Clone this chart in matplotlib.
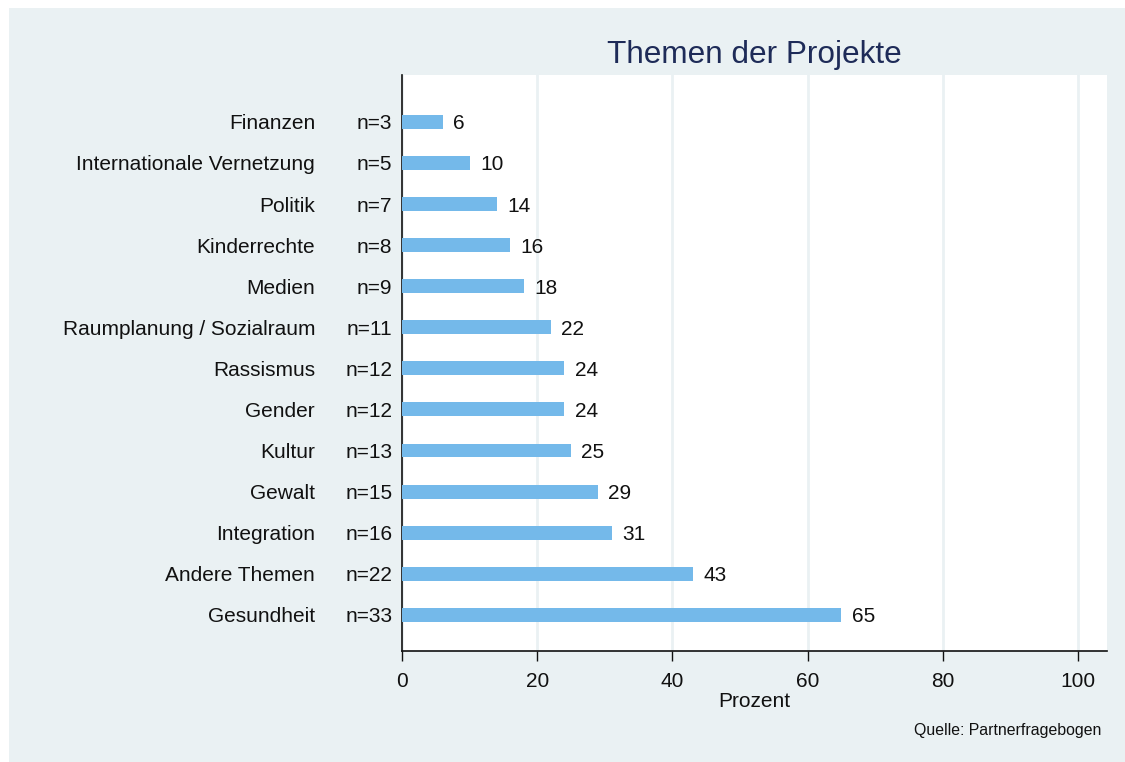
import matplotlib
matplotlib.use("Agg")
import matplotlib.pyplot as plt
from matplotlib.patches import Rectangle

categories = ["Finanzen", "Internationale Vernetzung", "Politik", "Kinderrechte", "Medien",
              "Raumplanung / Sozialraum", "Rassismus", "Gender", "Kultur", "Gewalt",
              "Integration", "Andere Themen", "Gesundheit"]
n_counts = [3, 5, 7, 8, 9, 11, 12, 12, 13, 15, 16, 22, 33]
percent = [6, 10, 14, 16, 18, 22, 24, 24, 25, 29, 31, 43, 65]
xticks = [0, 20, 40, 60, 80, 100]

plt.rcParams['font.family'] = ['Liberation Sans', 'DejaVu Sans']

W, H = 1125, 762
FS = 15
fig = plt.figure(figsize=(W/100, H/100), dpi=100, facecolor='white')
bg = '#EAF1F3'
fig.patches.append(Rectangle((9/W, 0), 1 - 9/W, 1 - 8/H, transform=fig.transFigure,
                             facecolor=bg, edgecolor='none', zorder=-10))

x0, x1 = 402, 1107
y0, y1 = 75, 651
ax = fig.add_axes([x0/W, 1 - y1/H, (x1-x0)/W, (y1-y0)/H])
ax.set_facecolor('white')

nc = len(categories)
ypos = [nc - 1 - i for i in range(nc)]
ax.barh(ypos, percent, height=0.34, color='#74B9EA', zorder=3)
ax.set_xlim(0, 104.3)
ax.set_ylim(-0.88, nc - 1 + 1.14)

for y, v in zip(ypos, percent):
    ax.annotate(f"{v}", (v, y), xytext=(7.5, 0), textcoords='offset points',
                va='center_baseline', ha='left', fontsize=FS, color='#111111')

ax.set_yticks(ypos)
ax.set_yticklabels([f"n={n}" for n in n_counts], fontsize=FS, color='#111111')
ax.tick_params(axis='y', length=0, pad=7)
for y, c in zip(ypos, categories):
    ax.text(-87/6.76, y, c, ha='right', va='center_baseline', fontsize=FS, color='#111111',
            transform=ax.transData, clip_on=False)

ax.set_xticks(xticks)
ax.set_xticklabels([str(t) for t in xticks], fontsize=FS, color='#111111')
ax.tick_params(axis='x', length=7, width=1, pad=8, colors='#111111')
ax.grid(axis='x', color=bg, linewidth=2, zorder=0)
ax.set_axisbelow(True)
for s in ['top', 'right']:
    ax.spines[s].set_visible(False)
for s in ['left', 'bottom']:
    ax.spines[s].set_linewidth(1.2)
    ax.spines[s].set_color('#111111')

ax.set_xlabel("Prozent", fontsize=FS, color='#111111', labelpad=1)
fig.text(754/W, 1 - 55/H, "Themen der Projekte", ha='center', va='center',
         fontsize=22.7, color='#1E2B58')
fig.text(1101/W, 1 - 730/H, "Quelle: Partnerfragebogen", ha='right', va='center',
         fontsize=11.4, color='#111111')

fig.savefig("out.png", dpi=100, facecolor=fig.get_facecolor())
